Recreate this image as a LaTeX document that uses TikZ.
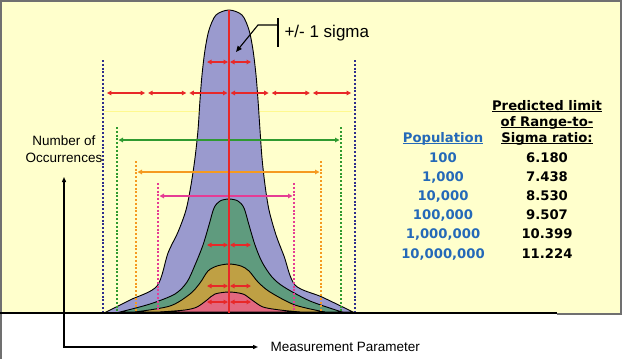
\documentclass[tikz,border=0pt]{standalone}
\usepackage{fontspec}
\setmainfont{Liberation Sans}
\newfontfamily\tablefont{DejaVu Sans}
\usepackage{xcolor}
\definecolor{SlideYellow}{HTML}{FFFFCC}
\definecolor{FrameGray}{HTML}{707070}
\definecolor{CurveLavender}{HTML}{9A9ACE}
\definecolor{CurveTeal}{HTML}{5F9B7E}
\definecolor{CurveOlive}{HTML}{BFA044}
\definecolor{CurvePink}{HTML}{E3687F}
\definecolor{SigmaRed}{HTML}{E82828}
\definecolor{RangeNavy}{HTML}{2E2E8C}
\definecolor{RangeGreen}{HTML}{2F9A2F}
\definecolor{RangeOrange}{HTML}{F59A20}
\definecolor{RangeMagenta}{HTML}{E53C94}
\definecolor{PopBlue}{HTML}{2469B8}
\usetikzlibrary{arrows.meta, positioning, calc}

% underline that ignores descenders
\newcommand{\ulined}[1]{\setbox0\hbox{#1}\rlap{\rule[-2.4pt]{\wd0}{1.3pt}}\box0}

\begin{document}
\begin{tikzpicture}[
  x=1pt, y=-1pt,
  % Grundstile
  curve/.style={
    draw=black,
    line width=0.9pt,
    fill=#1
  },
  limitline/.style={
    draw=#1,
    line width=2.4pt,
    dash pattern=on 2pt off 1.8pt
  },
  rangearrow/.style={
    draw=#1,
    line width=1.3pt,
    <->,
    >={Triangle[length=4.5pt,width=4.5pt]}
  },
  sigmaarrow/.style={
    rangearrow=SigmaRed,
    line width=1.3pt
  },
  axisarrow/.style={
    draw=black,
    line width=1.3pt,
    <->,
    >={Triangle[length=5pt,width=4pt]}
  },
  axislbl/.style={
    font=\fontsize{13.5}{17}\selectfont,
    align=center
  },
  tbl/.style={
    font=\tablefont\bfseries\fontsize{13.2}{15}\selectfont,
    anchor=base
  }
]

% =============================================================================
% HINTERGRUND
% =============================================================================
\useasboundingbox (0,0) rectangle (623,359);
\fill[SlideYellow] (1,1) rectangle (621,314);
\draw[FrameGray, line width=1.6pt] (0,1) -- (621,1) -- (621,314) -- (557,314);
\draw[FrameGray, line width=1.2pt] (1,0) -- (1,359);
\draw[yellow!30!SlideYellow, line width=0.8pt] (104,111) -- (352,111);

% =============================================================================
% VERTEILUNGEN
% =============================================================================
\draw[curve=CurveLavender] plot[smooth, tension=0.5] coordinates {
  (104,313) (130,300) (157,286) (168,253) (178,232) (186,210) (191,185)
  (195,158) (198,130) (200,100) (202,75) (205,50) (209,30) (216,15)
  (229,10) (242,15) (249,30) (253,50) (256,75) (258,100) (260,130)
  (262,158) (265,185) (269,210) (276,235) (284,256) (295,285) (322,297)
  (353,312)} -- cycle;
\draw[curve=CurveTeal] plot[smooth, tension=0.5] coordinates {
  (120,312) (150,304) (175,294) (187,282) (195,265) (203,245) (209,225)
  (214,208) (220,201) (229,199) (238,201) (244,208) (249,225) (255,245)
  (262,262) (272,277) (284,287) (310,301) (342,312)} -- cycle;
\draw[curve=CurveOlive] plot[smooth, tension=0.5] coordinates {
  (135,312) (170,306) (190,294) (200,283) (208,271) (217,266) (229,264)
  (241,266) (249,271) (258,282) (270,292) (295,305) (325,312)} -- cycle;
\draw[curve=CurvePink] plot[smooth, tension=0.5] coordinates {
  (160,312) (185,310) (197,307) (207,300) (215,294) (229,292) (243,294)
  (252,300) (263,307) (280,310) (300,312)} -- cycle;

% Grundlinie
\draw[black, line width=2pt] (0,313) -- (557,313);

% =============================================================================
% GRENZLINIEN
% =============================================================================
\draw[limitline=RangeNavy] (103,60) -- (103,312);
\draw[limitline=RangeNavy] (355,60) -- (355,312);
\foreach \name/\lx/\rx/\top/\ay/\col in {grn/117/341/127/140/RangeGreen,
    org/136/321/161/172/RangeOrange, mag/158/294/183/196/RangeMagenta} {
  \draw[limitline=\col] (\lx,\top) -- (\lx,312);
  \draw[limitline=\col] (\rx,\top) -- (\rx,312);
  \coordinate (\name L) at (\lx,\ay);
  \coordinate (\name R) at (\rx,\ay);
  \draw[rangearrow=\col, shorten <=1.5pt, shorten >=1.5pt] (\name L) -- (\name R);
}

% Mittellinie
\coordinate (peak) at (229,10);
\coordinate (base) at (229,313);
\draw[SigmaRed, line width=1.2pt] (peak) -- (base);

% +/- 3 sigma
\foreach \k [count=\i from 0] in {-3,...,3} {
  \coordinate (m\i) at ({229+(\k)*41.2},93);
}
\foreach \i in {0,...,5} {
  \pgfmathtruncatemacro{\j}{\i+1}
  \draw[sigmaarrow, shorten <=1.5pt, shorten >=1.5pt] (m\i) -- (m\j);
}

% +/- 1 sigma je Kurve
\foreach \row/\yy in {a/62, b/245, c/286, d/302} {
  \coordinate (\row C) at (229,\yy);
  \coordinate (\row L) at (207,\yy);
  \coordinate (\row R) at (251,\yy);
  \draw[sigmaarrow, shorten <=1pt] (\row C) -- (\row L);
  \draw[sigmaarrow, shorten <=1pt] (\row C) -- (\row R);
}

% =============================================================================
% ACHSEN UND BESCHRIFTUNG
% =============================================================================
\coordinate (origin) at (64,347);
\coordinate (ytip) at (64,177);
\coordinate (xtip) at (258,347);
\draw[axisarrow] (ytip) -- (origin) -- (xtip);
\node[axislbl, right=9pt of xtip] (xlabel) {Measurement Parameter};
\node[axislbl] (ylabel) at (64,149) {Number of\\Occurrences};

\node[axislbl, font=\fontsize{17}{20}\selectfont, anchor=west] (sigmalbl) at (281,33) {+/- 1 sigma};
\coordinate (barTop) at (278,18);
\coordinate (barBot) at (278,47);
\coordinate (barKnee) at (278,25);
\coordinate (elbow) at (258,25);
\coordinate (sigmaTip) at (236,52);
\draw[black, line width=1.3pt] (barTop) -- (barBot);
\draw[black, line width=1.1pt, -{Triangle[length=6pt,width=5pt]}] (barKnee) -- (elbow) -- (sigmaTip);

% =============================================================================
% TABELLE
% =============================================================================
\node[tbl, text=PopBlue] (pophead) at (443,142) {\ulined{Population}};
\node[tbl] (limhead1) at (547,110) {\ulined{Predicted limit}};
\node[tbl] (limhead2) at (547,126) {\ulined{of Range-to-}};
\node[tbl] (limhead3) at (547,142) {\ulined{Sigma ratio:}};
\foreach \pop/\lim [count=\i from 0] in {100/6.180, {1,000}/7.438, {10,000}/8.530,
    {100,000}/9.507, {1,000,000}/10.399, {10,000,000}/11.224} {
  \node[tbl, text=PopBlue] (pop\i) at (443,162+19.2*\i) {\pop};
  \node[tbl] (lim\i) at (547,162+19.2*\i) {\lim};
}

\end{tikzpicture}
\end{document}
